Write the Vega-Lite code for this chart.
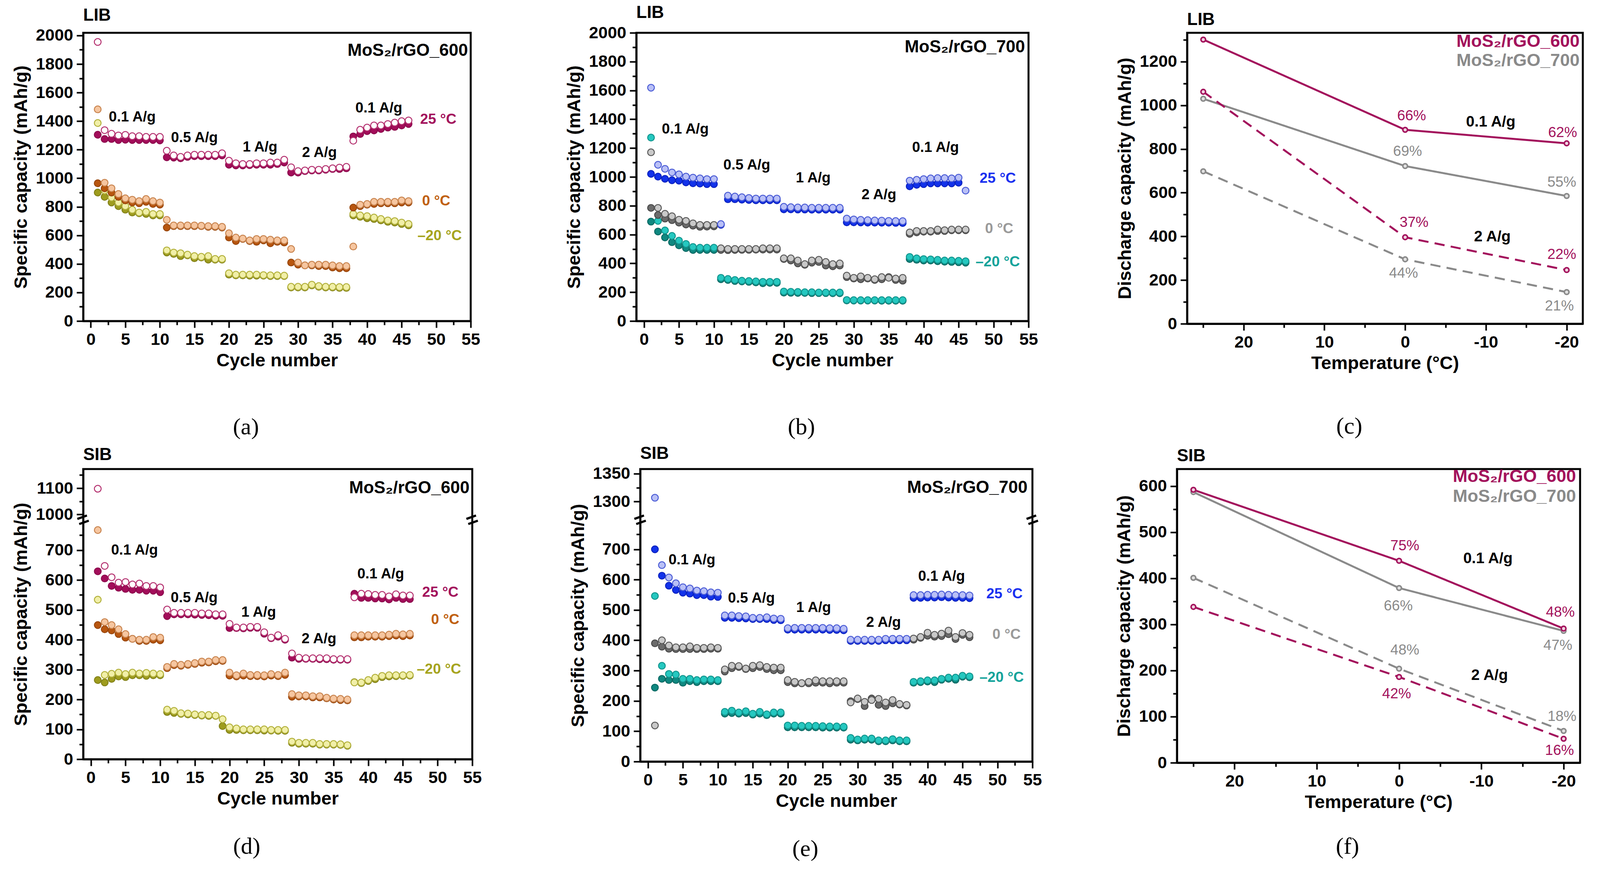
{
  "$schema": "https://vega.github.io/schema/vega-lite/v6.json",
  "background": "white",
  "padding": {"left": 27, "top": 8, "right": 10, "bottom": 10},
  "config": {
    "font": "Liberation Sans",
    "view": {"stroke": "black", "strokeWidth": 5},
    "axis": {
      "domainColor": "black", "domainWidth": 5, "tickColor": "black", "tickWidth": 4,
      "labelFontSize": 43, "labelFontWeight": "bold", "labelColor": "black", "labelPadding": 9,
      "labelFlush": false, "labelOverlap": false,
      "titleFontSize": 47, "titleFontWeight": "bold", "titleColor": "black", "grid": false
    },
    "axisX": {"titlePadding": 9},
    "axisY": {"titlePadding": 13},
    "title": {"fontSize": 44, "fontWeight": "bold", "color": "black", "anchor": "start", "frame": "group"}
  },
  "datasets": {
    "a": [
      {"s":"-20c","x":1,"y":900},{"s":"-20c","x":2,"y":870},{"s":"-20c","x":3,"y":830},{"s":"-20c","x":4,"y":805},{"s":"-20c","x":5,"y":780},{"s":"-20c","x":6,"y":760},{"s":"-20c","x":7,"y":755},{"s":"-20c","x":8,"y":750},{"s":"-20c","x":9,"y":740},{"s":"-20c","x":10,"y":740},
      {"s":"-20c","x":11,"y":480},{"s":"-20c","x":12,"y":470},{"s":"-20c","x":13,"y":455},{"s":"-20c","x":14,"y":460},{"s":"-20c","x":15,"y":440},{"s":"-20c","x":16,"y":445},{"s":"-20c","x":17,"y":430},{"s":"-20c","x":18,"y":430},{"s":"-20c","x":19,"y":430},
      {"s":"-20c","x":20,"y":325},{"s":"-20c","x":21,"y":320},{"s":"-20c","x":22,"y":320},{"s":"-20c","x":23,"y":318},{"s":"-20c","x":24,"y":318},{"s":"-20c","x":25,"y":318},{"s":"-20c","x":26,"y":315},{"s":"-20c","x":27,"y":315},{"s":"-20c","x":28,"y":315},
      {"s":"-20c","x":29,"y":235},{"s":"-20c","x":30,"y":235},{"s":"-20c","x":31,"y":235},{"s":"-20c","x":32,"y":250},{"s":"-20c","x":33,"y":240},{"s":"-20c","x":34,"y":235},{"s":"-20c","x":35,"y":235},{"s":"-20c","x":36,"y":232},{"s":"-20c","x":37,"y":232},
      {"s":"-20c","x":38,"y":740},{"s":"-20c","x":39,"y":730},{"s":"-20c","x":40,"y":720},{"s":"-20c","x":41,"y":715},{"s":"-20c","x":42,"y":705},{"s":"-20c","x":43,"y":695},{"s":"-20c","x":44,"y":690},{"s":"-20c","x":45,"y":680},{"s":"-20c","x":46,"y":670},
      {"s":"-20d","x":1,"y":1387},{"s":"-20d","x":2,"y":915},{"s":"-20d","x":3,"y":865},{"s":"-20d","x":4,"y":830},{"s":"-20d","x":5,"y":805},{"s":"-20d","x":6,"y":780},{"s":"-20d","x":7,"y":760},{"s":"-20d","x":8,"y":765},{"s":"-20d","x":9,"y":750},{"s":"-20d","x":10,"y":750},
      {"s":"-20d","x":11,"y":495},{"s":"-20d","x":12,"y":480},{"s":"-20d","x":13,"y":475},{"s":"-20d","x":14,"y":465},{"s":"-20d","x":15,"y":455},{"s":"-20d","x":16,"y":450},{"s":"-20d","x":17,"y":455},{"s":"-20d","x":18,"y":435},{"s":"-20d","x":19,"y":435},
      {"s":"-20d","x":20,"y":335},{"s":"-20d","x":21,"y":325},{"s":"-20d","x":22,"y":325},{"s":"-20d","x":23,"y":325},{"s":"-20d","x":24,"y":325},{"s":"-20d","x":25,"y":322},{"s":"-20d","x":26,"y":320},{"s":"-20d","x":27,"y":320},{"s":"-20d","x":28,"y":318},
      {"s":"-20d","x":29,"y":240},{"s":"-20d","x":30,"y":240},{"s":"-20d","x":31,"y":240},{"s":"-20d","x":32,"y":255},{"s":"-20d","x":33,"y":245},{"s":"-20d","x":34,"y":240},{"s":"-20d","x":35,"y":240},{"s":"-20d","x":36,"y":238},{"s":"-20d","x":37,"y":238},
      {"s":"-20d","x":38,"y":750},{"s":"-20d","x":39,"y":740},{"s":"-20d","x":40,"y":735},{"s":"-20d","x":41,"y":725},{"s":"-20d","x":42,"y":715},{"s":"-20d","x":43,"y":705},{"s":"-20d","x":44,"y":700},{"s":"-20d","x":45,"y":690},{"s":"-20d","x":46,"y":680},
      {"s":"0c","x":1,"y":965},{"s":"0c","x":2,"y":930},{"s":"0c","x":3,"y":900},{"s":"0c","x":4,"y":870},{"s":"0c","x":5,"y":845},{"s":"0c","x":6,"y":830},{"s":"0c","x":7,"y":825},{"s":"0c","x":8,"y":835},{"s":"0c","x":9,"y":820},{"s":"0c","x":10,"y":815},
      {"s":"0c","x":11,"y":655},{"s":"0c","x":12,"y":665},{"s":"0c","x":13,"y":665},{"s":"0c","x":14,"y":665},{"s":"0c","x":15,"y":665},{"s":"0c","x":16,"y":665},{"s":"0c","x":17,"y":660},{"s":"0c","x":18,"y":660},{"s":"0c","x":19,"y":655},
      {"s":"0c","x":20,"y":585},{"s":"0c","x":21,"y":560},{"s":"0c","x":22,"y":575},{"s":"0c","x":23,"y":560},{"s":"0c","x":24,"y":555},{"s":"0c","x":25,"y":565},{"s":"0c","x":26,"y":545},{"s":"0c","x":27,"y":555},{"s":"0c","x":28,"y":550},
      {"s":"0c","x":29,"y":410},{"s":"0c","x":30,"y":395},{"s":"0c","x":31,"y":390},{"s":"0c","x":32,"y":390},{"s":"0c","x":33,"y":385},{"s":"0c","x":34,"y":385},{"s":"0c","x":35,"y":375},{"s":"0c","x":36,"y":370},{"s":"0c","x":37,"y":370},
      {"s":"0c","x":38,"y":795},{"s":"0c","x":39,"y":805},{"s":"0c","x":40,"y":815},{"s":"0c","x":41,"y":820},{"s":"0c","x":42,"y":825},{"s":"0c","x":43,"y":825},{"s":"0c","x":44,"y":825},{"s":"0c","x":45,"y":830},{"s":"0c","x":46,"y":830},
      {"s":"0d","x":1,"y":1483},{"s":"0d","x":2,"y":969},{"s":"0d","x":3,"y":930},{"s":"0d","x":4,"y":890},{"s":"0d","x":5,"y":860},{"s":"0d","x":6,"y":850},{"s":"0d","x":7,"y":840},{"s":"0d","x":8,"y":855},{"s":"0d","x":9,"y":840},{"s":"0d","x":10,"y":830},
      {"s":"0d","x":11,"y":709},{"s":"0d","x":12,"y":670},{"s":"0d","x":13,"y":670},{"s":"0d","x":14,"y":670},{"s":"0d","x":15,"y":670},{"s":"0d","x":16,"y":668},{"s":"0d","x":17,"y":665},{"s":"0d","x":18,"y":665},{"s":"0d","x":19,"y":660},
      {"s":"0d","x":20,"y":615},{"s":"0d","x":21,"y":585},{"s":"0d","x":22,"y":578},{"s":"0d","x":23,"y":565},{"s":"0d","x":24,"y":575},{"s":"0d","x":25,"y":575},{"s":"0d","x":26,"y":570},{"s":"0d","x":27,"y":565},{"s":"0d","x":28,"y":565},
      {"s":"0d","x":29,"y":505},{"s":"0d","x":30,"y":410},{"s":"0d","x":31,"y":390},{"s":"0d","x":32,"y":395},{"s":"0d","x":33,"y":395},{"s":"0d","x":34,"y":395},{"s":"0d","x":35,"y":390},{"s":"0d","x":36,"y":385},{"s":"0d","x":37,"y":385},
      {"s":"0d","x":38,"y":522},{"s":"0d","x":39,"y":815},{"s":"0d","x":40,"y":820},{"s":"0d","x":41,"y":835},{"s":"0d","x":42,"y":835},{"s":"0d","x":43,"y":835},{"s":"0d","x":44,"y":835},{"s":"0d","x":45,"y":845},{"s":"0d","x":46,"y":840},
      {"s":"25c","x":1,"y":1305},{"s":"25c","x":2,"y":1275},{"s":"25c","x":3,"y":1275},{"s":"25c","x":4,"y":1268},{"s":"25c","x":5,"y":1270},{"s":"25c","x":6,"y":1268},{"s":"25c","x":7,"y":1268},{"s":"25c","x":8,"y":1268},{"s":"25c","x":9,"y":1268},{"s":"25c","x":10,"y":1265},
      {"s":"25c","x":11,"y":1147},{"s":"25c","x":12,"y":1145},{"s":"25c","x":13,"y":1140},{"s":"25c","x":14,"y":1150},{"s":"25c","x":15,"y":1155},{"s":"25c","x":16,"y":1155},{"s":"25c","x":17,"y":1155},{"s":"25c","x":18,"y":1155},{"s":"25c","x":19,"y":1160},
      {"s":"25c","x":20,"y":1095},{"s":"25c","x":21,"y":1090},{"s":"25c","x":22,"y":1090},{"s":"25c","x":23,"y":1092},{"s":"25c","x":24,"y":1095},{"s":"25c","x":25,"y":1095},{"s":"25c","x":26,"y":1095},{"s":"25c","x":27,"y":1100},{"s":"25c","x":28,"y":1110},
      {"s":"25c","x":29,"y":1040},{"s":"25c","x":30,"y":1040},{"s":"25c","x":31,"y":1050},{"s":"25c","x":32,"y":1055},{"s":"25c","x":33,"y":1055},{"s":"25c","x":34,"y":1060},{"s":"25c","x":35,"y":1065},{"s":"25c","x":36,"y":1065},{"s":"25c","x":37,"y":1070},
      {"s":"25c","x":38,"y":1293},{"s":"25c","x":39,"y":1310},{"s":"25c","x":40,"y":1330},{"s":"25c","x":41,"y":1335},{"s":"25c","x":42,"y":1345},{"s":"25c","x":43,"y":1355},{"s":"25c","x":44,"y":1360},{"s":"25c","x":45,"y":1370},{"s":"25c","x":46,"y":1380},
      {"s":"25d","x":1,"y":1955},{"s":"25d","x":2,"y":1337},{"s":"25d","x":3,"y":1312},{"s":"25d","x":4,"y":1300},{"s":"25d","x":5,"y":1304},{"s":"25d","x":6,"y":1295},{"s":"25d","x":7,"y":1295},{"s":"25d","x":8,"y":1290},{"s":"25d","x":9,"y":1290},{"s":"25d","x":10,"y":1290},
      {"s":"25d","x":11,"y":1193},{"s":"25d","x":12,"y":1160},{"s":"25d","x":13,"y":1150},{"s":"25d","x":14,"y":1160},{"s":"25d","x":15,"y":1165},{"s":"25d","x":16,"y":1165},{"s":"25d","x":17,"y":1165},{"s":"25d","x":18,"y":1165},{"s":"25d","x":19,"y":1175},
      {"s":"25d","x":20,"y":1123},{"s":"25d","x":21,"y":1105},{"s":"25d","x":22,"y":1100},{"s":"25d","x":23,"y":1100},{"s":"25d","x":24,"y":1105},{"s":"25d","x":25,"y":1105},{"s":"25d","x":26,"y":1110},{"s":"25d","x":27,"y":1110},{"s":"25d","x":28,"y":1130},
      {"s":"25d","x":29,"y":1077},{"s":"25d","x":30,"y":1050},{"s":"25d","x":31,"y":1055},{"s":"25d","x":32,"y":1060},{"s":"25d","x":33,"y":1060},{"s":"25d","x":34,"y":1065},{"s":"25d","x":35,"y":1070},{"s":"25d","x":36,"y":1075},{"s":"25d","x":37,"y":1080},
      {"s":"25d","x":38,"y":1263},{"s":"25d","x":39,"y":1340},{"s":"25d","x":40,"y":1355},{"s":"25d","x":41,"y":1370},{"s":"25d","x":42,"y":1370},{"s":"25d","x":43,"y":1380},{"s":"25d","x":44,"y":1390},{"s":"25d","x":45,"y":1400},{"s":"25d","x":46,"y":1405}
    ],
    "aT": [
      {"g":"rate","k":"rate","x":6.0,"y":1428,"t":"0.1 A/g"},
      {"g":"rate","k":"rate","x":15.0,"y":1284,"t":"0.5 A/g"},
      {"g":"rate","k":"rate","x":24.5,"y":1218,"t":"1 A/g"},
      {"g":"rate","k":"rate","x":33.1,"y":1180,"t":"2 A/g"},
      {"g":"rate","k":"rate","x":41.7,"y":1491,"t":"0.1 A/g"},
      {"g":"temp","k":"25","x":50.3,"y":1413,"t":"25 °C"},
      {"g":"temp","k":"0","x":50.0,"y":840,"t":"0 °C"},
      {"g":"temp","k":"-20","x":50.5,"y":597,"t":"–20 °C"},
      {"g":"name","k":"name","x":54.6,"y":1892,"t":"MoS₂/rGO_600"}
    ],
    "b": [
      {"s":"-20c","x":1,"y":690},{"s":"-20c","x":2,"y":621},{"s":"-20c","x":3,"y":580},{"s":"-20c","x":4,"y":547},{"s":"-20c","x":5,"y":525},{"s":"-20c","x":6,"y":506},{"s":"-20c","x":7,"y":493},{"s":"-20c","x":8,"y":493},{"s":"-20c","x":9,"y":493},{"s":"-20c","x":10,"y":493},
      {"s":"-20c","x":11,"y":290},{"s":"-20c","x":12,"y":285},{"s":"-20c","x":13,"y":278},{"s":"-20c","x":14,"y":275},{"s":"-20c","x":15,"y":272},{"s":"-20c","x":16,"y":268},{"s":"-20c","x":17,"y":262},{"s":"-20c","x":18,"y":265},{"s":"-20c","x":19,"y":265},
      {"s":"-20c","x":20,"y":197},{"s":"-20c","x":21,"y":196},{"s":"-20c","x":22,"y":195},{"s":"-20c","x":23,"y":195},{"s":"-20c","x":24,"y":194},{"s":"-20c","x":25,"y":194},{"s":"-20c","x":26,"y":194},{"s":"-20c","x":27,"y":193},{"s":"-20c","x":28,"y":193},
      {"s":"-20c","x":29,"y":143},{"s":"-20c","x":30,"y":142},{"s":"-20c","x":31,"y":142},{"s":"-20c","x":32,"y":142},{"s":"-20c","x":33,"y":142},{"s":"-20c","x":34,"y":141},{"s":"-20c","x":35,"y":141},{"s":"-20c","x":36,"y":141},{"s":"-20c","x":37,"y":141},
      {"s":"-20c","x":38,"y":430},{"s":"-20c","x":39,"y":425},{"s":"-20c","x":40,"y":420},{"s":"-20c","x":41,"y":420},{"s":"-20c","x":42,"y":415},{"s":"-20c","x":43,"y":412},{"s":"-20c","x":44,"y":410},{"s":"-20c","x":45,"y":408},{"s":"-20c","x":46,"y":405},
      {"s":"-20d","x":1,"y":1273},{"s":"-20d","x":2,"y":695},{"s":"-20d","x":3,"y":629},{"s":"-20d","x":4,"y":591},{"s":"-20d","x":5,"y":558},{"s":"-20d","x":6,"y":535},{"s":"-20d","x":7,"y":514},{"s":"-20d","x":8,"y":509},{"s":"-20d","x":9,"y":509},{"s":"-20d","x":10,"y":509},
      {"s":"-20d","x":11,"y":300},{"s":"-20d","x":12,"y":292},{"s":"-20d","x":13,"y":285},{"s":"-20d","x":14,"y":280},{"s":"-20d","x":15,"y":278},{"s":"-20d","x":16,"y":275},{"s":"-20d","x":17,"y":272},{"s":"-20d","x":18,"y":272},{"s":"-20d","x":19,"y":272},
      {"s":"-20d","x":20,"y":205},{"s":"-20d","x":21,"y":203},{"s":"-20d","x":22,"y":202},{"s":"-20d","x":23,"y":200},{"s":"-20d","x":24,"y":200},{"s":"-20d","x":25,"y":198},{"s":"-20d","x":26,"y":198},{"s":"-20d","x":27,"y":198},{"s":"-20d","x":28,"y":198},
      {"s":"-20d","x":29,"y":146},{"s":"-20d","x":30,"y":145},{"s":"-20d","x":31,"y":145},{"s":"-20d","x":32,"y":145},{"s":"-20d","x":33,"y":145},{"s":"-20d","x":34,"y":145},{"s":"-20d","x":35,"y":145},{"s":"-20d","x":36,"y":145},{"s":"-20d","x":37,"y":145},
      {"s":"-20d","x":38,"y":445},{"s":"-20d","x":39,"y":435},{"s":"-20d","x":40,"y":430},{"s":"-20d","x":41,"y":428},{"s":"-20d","x":42,"y":425},{"s":"-20d","x":43,"y":420},{"s":"-20d","x":44,"y":420},{"s":"-20d","x":45,"y":418},{"s":"-20d","x":46,"y":415},
      {"s":"0c","x":1,"y":785},{"s":"0c","x":2,"y":736},{"s":"0c","x":3,"y":711},{"s":"0c","x":4,"y":700},{"s":"0c","x":5,"y":683},{"s":"0c","x":6,"y":670},{"s":"0c","x":7,"y":662},{"s":"0c","x":8,"y":654},{"s":"0c","x":9,"y":655},{"s":"0c","x":10,"y":657},
      {"s":"0c","x":11,"y":493},{"s":"0c","x":12,"y":492},{"s":"0c","x":13,"y":493},{"s":"0c","x":14,"y":494},{"s":"0c","x":15,"y":494},{"s":"0c","x":16,"y":495},{"s":"0c","x":17,"y":496},{"s":"0c","x":18,"y":496},{"s":"0c","x":19,"y":496},
      {"s":"0c","x":20,"y":430},{"s":"0c","x":21,"y":420},{"s":"0c","x":22,"y":400},{"s":"0c","x":23,"y":390},{"s":"0c","x":24,"y":405},{"s":"0c","x":25,"y":410},{"s":"0c","x":26,"y":385},{"s":"0c","x":27,"y":380},{"s":"0c","x":28,"y":385},
      {"s":"0c","x":29,"y":305},{"s":"0c","x":30,"y":295},{"s":"0c","x":31,"y":290},{"s":"0c","x":32,"y":295},{"s":"0c","x":33,"y":285},{"s":"0c","x":34,"y":290},{"s":"0c","x":35,"y":305},{"s":"0c","x":36,"y":285},{"s":"0c","x":37,"y":280},
      {"s":"0c","x":38,"y":605},{"s":"0c","x":39,"y":615},{"s":"0c","x":40,"y":620},{"s":"0c","x":41,"y":620},{"s":"0c","x":42,"y":625},{"s":"0c","x":43,"y":625},{"s":"0c","x":44,"y":630},{"s":"0c","x":45,"y":630},{"s":"0c","x":46,"y":630},
      {"s":"0d","x":1,"y":1171},{"s":"0d","x":2,"y":785},{"s":"0d","x":3,"y":744},{"s":"0d","x":4,"y":727},{"s":"0d","x":5,"y":703},{"s":"0d","x":6,"y":695},{"s":"0d","x":7,"y":678},{"s":"0d","x":8,"y":667},{"s":"0d","x":9,"y":667},{"s":"0d","x":10,"y":667},
      {"s":"0d","x":11,"y":505},{"s":"0d","x":12,"y":500},{"s":"0d","x":13,"y":500},{"s":"0d","x":14,"y":500},{"s":"0d","x":15,"y":500},{"s":"0d","x":16,"y":500},{"s":"0d","x":17,"y":505},{"s":"0d","x":18,"y":505},{"s":"0d","x":19,"y":505},
      {"s":"0d","x":20,"y":435},{"s":"0d","x":21,"y":435},{"s":"0d","x":22,"y":420},{"s":"0d","x":23,"y":395},{"s":"0d","x":24,"y":420},{"s":"0d","x":25,"y":425},{"s":"0d","x":26,"y":410},{"s":"0d","x":27,"y":395},{"s":"0d","x":28,"y":400},
      {"s":"0d","x":29,"y":315},{"s":"0d","x":30,"y":300},{"s":"0d","x":31,"y":310},{"s":"0d","x":32,"y":300},{"s":"0d","x":33,"y":290},{"s":"0d","x":34,"y":305},{"s":"0d","x":35,"y":300},{"s":"0d","x":36,"y":295},{"s":"0d","x":37,"y":300},
      {"s":"0d","x":38,"y":615},{"s":"0d","x":39,"y":625},{"s":"0d","x":40,"y":625},{"s":"0d","x":41,"y":625},{"s":"0d","x":42,"y":635},{"s":"0d","x":43,"y":630},{"s":"0d","x":44,"y":635},{"s":"0d","x":45,"y":635},{"s":"0d","x":46,"y":635},
      {"s":"25c","x":1,"y":1021},{"s":"25c","x":2,"y":1002},{"s":"25c","x":3,"y":987},{"s":"25c","x":4,"y":977},{"s":"25c","x":5,"y":974},{"s":"25c","x":6,"y":962},{"s":"25c","x":7,"y":956},{"s":"25c","x":8,"y":954},{"s":"25c","x":9,"y":950},{"s":"25c","x":10,"y":950},
      {"s":"25c","x":11,"y":668},{"s":"25c","x":12,"y":845},{"s":"25c","x":13,"y":845},{"s":"25c","x":14,"y":842},{"s":"25c","x":15,"y":840},{"s":"25c","x":16,"y":838},{"s":"25c","x":17,"y":838},{"s":"25c","x":18,"y":838},{"s":"25c","x":19,"y":838},
      {"s":"25c","x":20,"y":775},{"s":"25c","x":21,"y":775},{"s":"25c","x":22,"y":774},{"s":"25c","x":23,"y":774},{"s":"25c","x":24,"y":773},{"s":"25c","x":25,"y":773},{"s":"25c","x":26,"y":773},{"s":"25c","x":27,"y":773},{"s":"25c","x":28,"y":773},
      {"s":"25c","x":29,"y":685},{"s":"25c","x":30,"y":685},{"s":"25c","x":31,"y":684},{"s":"25c","x":32,"y":683},{"s":"25c","x":33,"y":683},{"s":"25c","x":34,"y":682},{"s":"25c","x":35,"y":682},{"s":"25c","x":36,"y":681},{"s":"25c","x":37,"y":680},
      {"s":"25c","x":38,"y":935},{"s":"25c","x":39,"y":945},{"s":"25c","x":40,"y":950},{"s":"25c","x":41,"y":955},{"s":"25c","x":42,"y":955},{"s":"25c","x":43,"y":955},{"s":"25c","x":44,"y":955},{"s":"25c","x":45,"y":960},
      {"s":"25d","x":1,"y":1619},{"s":"25d","x":2,"y":1084},{"s":"25d","x":3,"y":1056},{"s":"25d","x":4,"y":1031},{"s":"25d","x":5,"y":1018},{"s":"25d","x":6,"y":1002},{"s":"25d","x":7,"y":995},{"s":"25d","x":8,"y":990},{"s":"25d","x":9,"y":985},{"s":"25d","x":10,"y":985},
      {"s":"25d","x":11,"y":673},{"s":"25d","x":12,"y":870},{"s":"25d","x":13,"y":864},{"s":"25d","x":14,"y":859},{"s":"25d","x":15,"y":854},{"s":"25d","x":16,"y":850},{"s":"25d","x":17,"y":850},{"s":"25d","x":18,"y":850},{"s":"25d","x":19,"y":850},
      {"s":"25d","x":20,"y":793},{"s":"25d","x":21,"y":790},{"s":"25d","x":22,"y":788},{"s":"25d","x":23,"y":788},{"s":"25d","x":24,"y":786},{"s":"25d","x":25,"y":786},{"s":"25d","x":26,"y":786},{"s":"25d","x":27,"y":786},{"s":"25d","x":28,"y":786},
      {"s":"25d","x":29,"y":711},{"s":"25d","x":30,"y":705},{"s":"25d","x":31,"y":702},{"s":"25d","x":32,"y":700},{"s":"25d","x":33,"y":698},{"s":"25d","x":34,"y":697},{"s":"25d","x":35,"y":695},{"s":"25d","x":36,"y":694},{"s":"25d","x":37,"y":693},
      {"s":"25d","x":38,"y":974},{"s":"25d","x":39,"y":980},{"s":"25d","x":40,"y":985},{"s":"25d","x":41,"y":990},{"s":"25d","x":42,"y":992},{"s":"25d","x":43,"y":992},{"s":"25d","x":44,"y":990},{"s":"25d","x":45,"y":995},{"s":"25d","x":46,"y":905}
    ],
    "bT": [
      {"g":"rate","k":"rate","x":5.9,"y":1330,"t":"0.1 A/g"},
      {"g":"rate","k":"rate","x":14.7,"y":1080,"t":"0.5 A/g"},
      {"g":"rate","k":"rate","x":24.2,"y":993,"t":"1 A/g"},
      {"g":"rate","k":"rate","x":33.6,"y":875,"t":"2 A/g"},
      {"g":"rate","k":"rate","x":41.7,"y":1203,"t":"0.1 A/g"},
      {"g":"temp","k":"25","x":50.6,"y":990,"t":"25 °C"},
      {"g":"temp","k":"0","x":50.8,"y":640,"t":"0 °C"},
      {"g":"temp","k":"-20","x":50.6,"y":410,"t":"–20 °C"},
      {"g":"name","k":"name","x":54.5,"y":1901,"t":"MoS₂/rGO_700"}
    ],
    "c": [
      {"s":"700","r":"0.1","x":25,"y":1030},{"s":"700","r":"0.1","x":0,"y":722},{"s":"700","r":"0.1","x":-20,"y":585},
      {"s":"700","r":"2","x":25,"y":698},{"s":"700","r":"2","x":0,"y":295},{"s":"700","r":"2","x":-20,"y":145},
      {"s":"600","r":"0.1","x":25,"y":1301},{"s":"600","r":"0.1","x":0,"y":888},{"s":"600","r":"0.1","x":-20,"y":826},
      {"s":"600","r":"2","x":25,"y":1062},{"s":"600","r":"2","x":0,"y":396},{"s":"600","r":"2","x":-20,"y":246}
    ],
    "cT": [
      {"g":"leg","k":"600","x":-21.6,"y":1292,"t":"MoS₂/rGO_600"},
      {"g":"leg","k":"700","x":-21.6,"y":1205,"t":"MoS₂/rGO_700"},
      {"g":"pct","k":"600","x":-0.8,"y":951,"t":"66%"},
      {"g":"pct","k":"600","x":-19.5,"y":875,"t":"62%"},
      {"g":"pct","k":"700","x":-0.3,"y":788,"t":"69%"},
      {"g":"pct","k":"700","x":-19.4,"y":647,"t":"55%"},
      {"g":"pct","k":"600","x":-1.1,"y":463,"t":"37%"},
      {"g":"pct","k":"600","x":-19.4,"y":317,"t":"22%"},
      {"g":"pct","k":"700","x":0.2,"y":230,"t":"44%"},
      {"g":"pct","k":"700","x":-19.1,"y":80,"t":"21%"},
      {"g":"rate","k":"rate","x":-10.6,"y":924,"t":"0.1 A/g"},
      {"g":"rate","k":"rate","x":-10.8,"y":398,"t":"2 A/g"}
    ],
    "d": [
      {"s":"-20c","x":1,"y":265},{"s":"-20c","x":2,"y":257},{"s":"-20c","x":3,"y":269},{"s":"-20c","x":4,"y":277},{"s":"-20c","x":5,"y":275},{"s":"-20c","x":6,"y":281},{"s":"-20c","x":7,"y":281},{"s":"-20c","x":8,"y":279},{"s":"-20c","x":9,"y":281},{"s":"-20c","x":10,"y":281},
      {"s":"-20c","x":11,"y":158},{"s":"-20c","x":12,"y":155},{"s":"-20c","x":13,"y":152},{"s":"-20c","x":14,"y":150},{"s":"-20c","x":15,"y":148},{"s":"-20c","x":16,"y":146},{"s":"-20c","x":17,"y":145},{"s":"-20c","x":18,"y":145},{"s":"-20c","x":19,"y":111},
      {"s":"-20c","x":20,"y":98},{"s":"-20c","x":21,"y":98},{"s":"-20c","x":22,"y":97},{"s":"-20c","x":23,"y":97},{"s":"-20c","x":24,"y":97},{"s":"-20c","x":25,"y":96},{"s":"-20c","x":26,"y":96},{"s":"-20c","x":27,"y":95},{"s":"-20c","x":28,"y":95},
      {"s":"-20c","x":29,"y":55},{"s":"-20c","x":30,"y":52},{"s":"-20c","x":31,"y":52},{"s":"-20c","x":32,"y":52},{"s":"-20c","x":33,"y":49},{"s":"-20c","x":34,"y":49},{"s":"-20c","x":35,"y":49},{"s":"-20c","x":36,"y":48},{"s":"-20c","x":37,"y":45},
      {"s":"-20c","x":38,"y":258},{"s":"-20c","x":39,"y":255},{"s":"-20c","x":40,"y":262},{"s":"-20c","x":41,"y":268},{"s":"-20c","x":42,"y":275},{"s":"-20c","x":43,"y":277},{"s":"-20c","x":44,"y":278},{"s":"-20c","x":45,"y":279},{"s":"-20c","x":46,"y":280},
      {"s":"-20d","x":1,"y":534},{"s":"-20d","x":2,"y":282},{"s":"-20d","x":3,"y":286},{"s":"-20d","x":4,"y":290},{"s":"-20d","x":5,"y":285},{"s":"-20d","x":6,"y":290},{"s":"-20d","x":7,"y":287},{"s":"-20d","x":8,"y":289},{"s":"-20d","x":9,"y":287},{"s":"-20d","x":10,"y":285},
      {"s":"-20d","x":11,"y":166},{"s":"-20d","x":12,"y":162},{"s":"-20d","x":13,"y":154},{"s":"-20d","x":14,"y":153},{"s":"-20d","x":15,"y":150},{"s":"-20d","x":16,"y":148},{"s":"-20d","x":17,"y":148},{"s":"-20d","x":18,"y":146},{"s":"-20d","x":19,"y":134},
      {"s":"-20d","x":20,"y":107},{"s":"-20d","x":21,"y":103},{"s":"-20d","x":22,"y":100},{"s":"-20d","x":23,"y":100},{"s":"-20d","x":24,"y":100},{"s":"-20d","x":25,"y":100},{"s":"-20d","x":26,"y":98},{"s":"-20d","x":27,"y":98},{"s":"-20d","x":28,"y":98},
      {"s":"-20d","x":29,"y":59},{"s":"-20d","x":30,"y":55},{"s":"-20d","x":31,"y":55},{"s":"-20d","x":32,"y":55},{"s":"-20d","x":33,"y":51},{"s":"-20d","x":34,"y":51},{"s":"-20d","x":35,"y":51},{"s":"-20d","x":36,"y":50},{"s":"-20d","x":37,"y":47},
      {"s":"-20d","x":38,"y":257},{"s":"-20d","x":39,"y":257},{"s":"-20d","x":40,"y":265},{"s":"-20d","x":41,"y":273},{"s":"-20d","x":42,"y":279},{"s":"-20d","x":43,"y":281},{"s":"-20d","x":44,"y":281},{"s":"-20d","x":45,"y":281},{"s":"-20d","x":46,"y":282},
      {"s":"0c","x":1,"y":449},{"s":"0c","x":2,"y":435},{"s":"0c","x":3,"y":431},{"s":"0c","x":4,"y":419},{"s":"0c","x":5,"y":407},{"s":"0c","x":6,"y":403},{"s":"0c","x":7,"y":396},{"s":"0c","x":8,"y":396},{"s":"0c","x":9,"y":400},{"s":"0c","x":10,"y":398},
      {"s":"0c","x":11,"y":305},{"s":"0c","x":12,"y":315},{"s":"0c","x":13,"y":313},{"s":"0c","x":14,"y":316},{"s":"0c","x":15,"y":319},{"s":"0c","x":16,"y":323},{"s":"0c","x":17,"y":324},{"s":"0c","x":18,"y":328},{"s":"0c","x":19,"y":329},
      {"s":"0c","x":20,"y":280},{"s":"0c","x":21,"y":277},{"s":"0c","x":22,"y":280},{"s":"0c","x":23,"y":278},{"s":"0c","x":24,"y":278},{"s":"0c","x":25,"y":277},{"s":"0c","x":26,"y":280},{"s":"0c","x":27,"y":278},{"s":"0c","x":28,"y":282},
      {"s":"0c","x":29,"y":209},{"s":"0c","x":30,"y":210},{"s":"0c","x":31,"y":210},{"s":"0c","x":32,"y":207},{"s":"0c","x":33,"y":207},{"s":"0c","x":34,"y":204},{"s":"0c","x":35,"y":200},{"s":"0c","x":36,"y":198},{"s":"0c","x":37,"y":197},
      {"s":"0c","x":38,"y":408},{"s":"0c","x":39,"y":408},{"s":"0c","x":40,"y":410},{"s":"0c","x":41,"y":410},{"s":"0c","x":42,"y":410},{"s":"0c","x":43,"y":412},{"s":"0c","x":44,"y":414},{"s":"0c","x":45,"y":412},{"s":"0c","x":46,"y":414},
      {"s":"0d","x":1,"y":767},{"s":"0d","x":2,"y":459},{"s":"0d","x":3,"y":449},{"s":"0d","x":4,"y":435},{"s":"0d","x":5,"y":419},{"s":"0d","x":6,"y":403},{"s":"0d","x":7,"y":400},{"s":"0d","x":8,"y":400},{"s":"0d","x":9,"y":409},{"s":"0d","x":10,"y":407},
      {"s":"0d","x":11,"y":309},{"s":"0d","x":12,"y":319},{"s":"0d","x":13,"y":316},{"s":"0d","x":14,"y":319},{"s":"0d","x":15,"y":322},{"s":"0d","x":16,"y":327},{"s":"0d","x":17,"y":327},{"s":"0d","x":18,"y":332},{"s":"0d","x":19,"y":332},
      {"s":"0d","x":20,"y":290},{"s":"0d","x":21,"y":281},{"s":"0d","x":22,"y":287},{"s":"0d","x":23,"y":282},{"s":"0d","x":24,"y":282},{"s":"0d","x":25,"y":281},{"s":"0d","x":26,"y":285},{"s":"0d","x":27,"y":282},{"s":"0d","x":28,"y":290},
      {"s":"0d","x":29,"y":218},{"s":"0d","x":30,"y":214},{"s":"0d","x":31,"y":214},{"s":"0d","x":32,"y":211},{"s":"0d","x":33,"y":211},{"s":"0d","x":34,"y":206},{"s":"0d","x":35,"y":203},{"s":"0d","x":36,"y":202},{"s":"0d","x":37,"y":200},
      {"s":"0d","x":38,"y":415},{"s":"0d","x":39,"y":415},{"s":"0d","x":40,"y":415},{"s":"0d","x":41,"y":415},{"s":"0d","x":42,"y":415},{"s":"0d","x":43,"y":417},{"s":"0d","x":44,"y":420},{"s":"0d","x":45,"y":418},{"s":"0d","x":46,"y":420},
      {"s":"25c","x":1,"y":629},{"s":"25c","x":2,"y":605},{"s":"25c","x":3,"y":580},{"s":"25c","x":4,"y":574},{"s":"25c","x":5,"y":570},{"s":"25c","x":6,"y":567},{"s":"25c","x":7,"y":567},{"s":"25c","x":8,"y":564},{"s":"25c","x":9,"y":564},{"s":"25c","x":10,"y":559},
      {"s":"25c","x":11,"y":479},{"s":"25c","x":12,"y":485},{"s":"25c","x":13,"y":485},{"s":"25c","x":14,"y":485},{"s":"25c","x":15,"y":484},{"s":"25c","x":16,"y":483},{"s":"25c","x":17,"y":482},{"s":"25c","x":18,"y":480},{"s":"25c","x":19,"y":480},
      {"s":"25c","x":20,"y":439},{"s":"25c","x":21,"y":439},{"s":"25c","x":22,"y":438},{"s":"25c","x":23,"y":440},{"s":"25c","x":24,"y":440},{"s":"25c","x":25,"y":420},{"s":"25c","x":26,"y":405},{"s":"25c","x":27,"y":410},{"s":"25c","x":28,"y":400},
      {"s":"25c","x":29,"y":340},{"s":"25c","x":30,"y":336},{"s":"25c","x":31,"y":336},{"s":"25c","x":32,"y":336},{"s":"25c","x":33,"y":335},{"s":"25c","x":34,"y":335},{"s":"25c","x":35,"y":333},{"s":"25c","x":36,"y":333},{"s":"25c","x":37,"y":333},
      {"s":"25c","x":38,"y":554},{"s":"25c","x":39,"y":540},{"s":"25c","x":40,"y":540},{"s":"25c","x":41,"y":538},{"s":"25c","x":42,"y":538},{"s":"25c","x":43,"y":535},{"s":"25c","x":44,"y":540},{"s":"25c","x":45,"y":536},{"s":"25c","x":46,"y":536},
      {"s":"25d","x":1,"y":1098},{"s":"25d","x":2,"y":647},{"s":"25d","x":3,"y":609},{"s":"25d","x":4,"y":591},{"s":"25d","x":5,"y":593},{"s":"25d","x":6,"y":585},{"s":"25d","x":7,"y":588},{"s":"25d","x":8,"y":580},{"s":"25d","x":9,"y":580},{"s":"25d","x":10,"y":575},
      {"s":"25d","x":11,"y":501},{"s":"25d","x":12,"y":490},{"s":"25d","x":13,"y":490},{"s":"25d","x":14,"y":490},{"s":"25d","x":15,"y":490},{"s":"25d","x":16,"y":488},{"s":"25d","x":17,"y":488},{"s":"25d","x":18,"y":485},{"s":"25d","x":19,"y":485},
      {"s":"25d","x":20,"y":453},{"s":"25d","x":21,"y":441},{"s":"25d","x":22,"y":441},{"s":"25d","x":23,"y":443},{"s":"25d","x":24,"y":443},{"s":"25d","x":25,"y":425},{"s":"25d","x":26,"y":407},{"s":"25d","x":27,"y":415},{"s":"25d","x":28,"y":403},
      {"s":"25d","x":29,"y":354},{"s":"25d","x":30,"y":340},{"s":"25d","x":31,"y":338},{"s":"25d","x":32,"y":338},{"s":"25d","x":33,"y":338},{"s":"25d","x":34,"y":338},{"s":"25d","x":35,"y":335},{"s":"25d","x":36,"y":335},{"s":"25d","x":37,"y":335},
      {"s":"25d","x":38,"y":542},{"s":"25d","x":39,"y":554},{"s":"25d","x":40,"y":553},{"s":"25d","x":41,"y":550},{"s":"25d","x":42,"y":550},{"s":"25d","x":43,"y":545},{"s":"25d","x":44,"y":552},{"s":"25d","x":45,"y":548},{"s":"25d","x":46,"y":548}
    ],
    "dT": [
      {"g":"rate","k":"rate","x":6.3,"y":699,"t":"0.1 A/g"},
      {"g":"rate","k":"rate","x":14.9,"y":540,"t":"0.5 A/g"},
      {"g":"rate","k":"rate","x":24.2,"y":492,"t":"1 A/g"},
      {"g":"rate","k":"rate","x":32.9,"y":403,"t":"2 A/g"},
      {"g":"rate","k":"rate","x":41.8,"y":619,"t":"0.1 A/g"},
      {"g":"temp","k":"25","x":50.4,"y":558,"t":"25 °C"},
      {"g":"temp","k":"0","x":51.1,"y":467,"t":"0 °C"},
      {"g":"temp","k":"-20","x":50.2,"y":301,"t":"–20 °C"},
      {"g":"name","k":"name","x":54.6,"y":1100,"t":"MoS₂/rGO_600"}
    ],
    "e": [
      {"s":"-20c","x":1,"y":244},{"s":"-20c","x":2,"y":273},{"s":"-20c","x":3,"y":269},{"s":"-20c","x":4,"y":269},{"s":"-20c","x":5,"y":260},{"s":"-20c","x":6,"y":265},{"s":"-20c","x":7,"y":262},{"s":"-20c","x":8,"y":265},{"s":"-20c","x":9,"y":265},{"s":"-20c","x":10,"y":265},
      {"s":"-20c","x":11,"y":158},{"s":"-20c","x":12,"y":160},{"s":"-20c","x":13,"y":158},{"s":"-20c","x":14,"y":160},{"s":"-20c","x":15,"y":155},{"s":"-20c","x":16,"y":158},{"s":"-20c","x":17,"y":153},{"s":"-20c","x":18,"y":158},{"s":"-20c","x":19,"y":158},
      {"s":"-20c","x":20,"y":113},{"s":"-20c","x":21,"y":113},{"s":"-20c","x":22,"y":113},{"s":"-20c","x":23,"y":113},{"s":"-20c","x":24,"y":113},{"s":"-20c","x":25,"y":112},{"s":"-20c","x":26,"y":112},{"s":"-20c","x":27,"y":112},{"s":"-20c","x":28,"y":112},
      {"s":"-20c","x":29,"y":72},{"s":"-20c","x":30,"y":70},{"s":"-20c","x":31,"y":72},{"s":"-20c","x":32,"y":72},{"s":"-20c","x":33,"y":67},{"s":"-20c","x":34,"y":67},{"s":"-20c","x":35,"y":70},{"s":"-20c","x":36,"y":67},{"s":"-20c","x":37,"y":67},
      {"s":"-20c","x":38,"y":260},{"s":"-20c","x":39,"y":262},{"s":"-20c","x":40,"y":264},{"s":"-20c","x":41,"y":262},{"s":"-20c","x":42,"y":270},{"s":"-20c","x":43,"y":273},{"s":"-20c","x":44,"y":270},{"s":"-20c","x":45,"y":280},{"s":"-20c","x":46,"y":278},
      {"s":"-20d","x":1,"y":546},{"s":"-20d","x":2,"y":316},{"s":"-20d","x":3,"y":289},{"s":"-20d","x":4,"y":287},{"s":"-20d","x":5,"y":273},{"s":"-20d","x":6,"y":273},{"s":"-20d","x":7,"y":269},{"s":"-20d","x":8,"y":271},{"s":"-20d","x":9,"y":271},{"s":"-20d","x":10,"y":269},
      {"s":"-20d","x":11,"y":164},{"s":"-20d","x":12,"y":168},{"s":"-20d","x":13,"y":162},{"s":"-20d","x":14,"y":166},{"s":"-20d","x":15,"y":158},{"s":"-20d","x":16,"y":164},{"s":"-20d","x":17,"y":156},{"s":"-20d","x":18,"y":162},{"s":"-20d","x":19,"y":162},
      {"s":"-20d","x":20,"y":119},{"s":"-20d","x":21,"y":119},{"s":"-20d","x":22,"y":118},{"s":"-20d","x":23,"y":118},{"s":"-20d","x":24,"y":118},{"s":"-20d","x":25,"y":117},{"s":"-20d","x":26,"y":116},{"s":"-20d","x":27,"y":116},{"s":"-20d","x":28,"y":115},
      {"s":"-20d","x":29,"y":78},{"s":"-20d","x":30,"y":73},{"s":"-20d","x":31,"y":76},{"s":"-20d","x":32,"y":76},{"s":"-20d","x":33,"y":70},{"s":"-20d","x":34,"y":70},{"s":"-20d","x":35,"y":74},{"s":"-20d","x":36,"y":70},{"s":"-20d","x":37,"y":70},
      {"s":"-20d","x":38,"y":263},{"s":"-20d","x":39,"y":265},{"s":"-20d","x":40,"y":268},{"s":"-20d","x":41,"y":268},{"s":"-20d","x":42,"y":273},{"s":"-20d","x":43,"y":277},{"s":"-20d","x":44,"y":277},{"s":"-20d","x":45,"y":283},{"s":"-20d","x":46,"y":281},
      {"s":"0c","x":1,"y":390},{"s":"0c","x":2,"y":379},{"s":"0c","x":3,"y":372},{"s":"0c","x":4,"y":371},{"s":"0c","x":5,"y":371},{"s":"0c","x":6,"y":371},{"s":"0c","x":7,"y":371},{"s":"0c","x":8,"y":371},{"s":"0c","x":9,"y":372},{"s":"0c","x":10,"y":372},
      {"s":"0c","x":11,"y":297},{"s":"0c","x":12,"y":308},{"s":"0c","x":13,"y":312},{"s":"0c","x":14,"y":305},{"s":"0c","x":15,"y":308},{"s":"0c","x":16,"y":312},{"s":"0c","x":17,"y":305},{"s":"0c","x":18,"y":301},{"s":"0c","x":19,"y":301},
      {"s":"0c","x":20,"y":262},{"s":"0c","x":21,"y":258},{"s":"0c","x":22,"y":258},{"s":"0c","x":23,"y":258},{"s":"0c","x":24,"y":260},{"s":"0c","x":25,"y":260},{"s":"0c","x":26,"y":258},{"s":"0c","x":27,"y":260},{"s":"0c","x":28,"y":260},
      {"s":"0c","x":29,"y":199},{"s":"0c","x":30,"y":206},{"s":"0c","x":31,"y":183},{"s":"0c","x":32,"y":208},{"s":"0c","x":33,"y":187},{"s":"0c","x":34,"y":183},{"s":"0c","x":35,"y":192},{"s":"0c","x":36,"y":188},{"s":"0c","x":37,"y":185},
      {"s":"0c","x":38,"y":402},{"s":"0c","x":39,"y":408},{"s":"0c","x":40,"y":415},{"s":"0c","x":41,"y":412},{"s":"0c","x":42,"y":414},{"s":"0c","x":43,"y":420},{"s":"0c","x":44,"y":404},{"s":"0c","x":45,"y":418},{"s":"0c","x":46,"y":410},
      {"s":"0d","x":1,"y":119},{"s":"0d","x":2,"y":400},{"s":"0d","x":3,"y":383},{"s":"0d","x":4,"y":377},{"s":"0d","x":5,"y":377},{"s":"0d","x":6,"y":380},{"s":"0d","x":7,"y":375},{"s":"0d","x":8,"y":375},{"s":"0d","x":9,"y":377},{"s":"0d","x":10,"y":375},
      {"s":"0d","x":11,"y":304},{"s":"0d","x":12,"y":316},{"s":"0d","x":13,"y":315},{"s":"0d","x":14,"y":307},{"s":"0d","x":15,"y":316},{"s":"0d","x":16,"y":318},{"s":"0d","x":17,"y":312},{"s":"0d","x":18,"y":310},{"s":"0d","x":19,"y":310},
      {"s":"0d","x":20,"y":269},{"s":"0d","x":21,"y":263},{"s":"0d","x":22,"y":259},{"s":"0d","x":23,"y":263},{"s":"0d","x":24,"y":268},{"s":"0d","x":25,"y":265},{"s":"0d","x":26,"y":265},{"s":"0d","x":27,"y":265},{"s":"0d","x":28,"y":265},
      {"s":"0d","x":29,"y":195},{"s":"0d","x":30,"y":208},{"s":"0d","x":31,"y":197},{"s":"0d","x":32,"y":203},{"s":"0d","x":33,"y":207},{"s":"0d","x":34,"y":195},{"s":"0d","x":35,"y":203},{"s":"0d","x":36,"y":190},{"s":"0d","x":37,"y":187},
      {"s":"0d","x":38,"y":406},{"s":"0d","x":39,"y":411},{"s":"0d","x":40,"y":425},{"s":"0d","x":41,"y":418},{"s":"0d","x":42,"y":422},{"s":"0d","x":43,"y":432},{"s":"0d","x":44,"y":411},{"s":"0d","x":45,"y":424},{"s":"0d","x":46,"y":418},
      {"s":"25c","x":1,"y":700},{"s":"25c","x":2,"y":613},{"s":"25c","x":3,"y":580},{"s":"25c","x":4,"y":566},{"s":"25c","x":5,"y":557},{"s":"25c","x":6,"y":554},{"s":"25c","x":7,"y":549},{"s":"25c","x":8,"y":549},{"s":"25c","x":9,"y":544},{"s":"25c","x":10,"y":543},
      {"s":"25c","x":11,"y":474},{"s":"25c","x":12,"y":474},{"s":"25c","x":13,"y":473},{"s":"25c","x":14,"y":472},{"s":"25c","x":15,"y":470},{"s":"25c","x":16,"y":470},{"s":"25c","x":17,"y":470},{"s":"25c","x":18,"y":467},{"s":"25c","x":19,"y":466},
      {"s":"25c","x":20,"y":435},{"s":"25c","x":21,"y":435},{"s":"25c","x":22,"y":435},{"s":"25c","x":23,"y":435},{"s":"25c","x":24,"y":435},{"s":"25c","x":25,"y":435},{"s":"25c","x":26,"y":434},{"s":"25c","x":27,"y":434},{"s":"25c","x":28,"y":433},
      {"s":"25c","x":29,"y":398},{"s":"25c","x":30,"y":398},{"s":"25c","x":31,"y":398},{"s":"25c","x":32,"y":398},{"s":"25c","x":33,"y":398},{"s":"25c","x":34,"y":400},{"s":"25c","x":35,"y":400},{"s":"25c","x":36,"y":400},{"s":"25c","x":37,"y":400},
      {"s":"25c","x":38,"y":540},{"s":"25c","x":39,"y":540},{"s":"25c","x":40,"y":541},{"s":"25c","x":41,"y":541},{"s":"25c","x":42,"y":542},{"s":"25c","x":43,"y":541},{"s":"25c","x":44,"y":540},{"s":"25c","x":45,"y":540},{"s":"25c","x":46,"y":539},
      {"s":"25d","x":1,"y":1307},{"s":"25d","x":2,"y":648},{"s":"25d","x":3,"y":607},{"s":"25d","x":4,"y":588},{"s":"25d","x":5,"y":575},{"s":"25d","x":6,"y":571},{"s":"25d","x":7,"y":564},{"s":"25d","x":8,"y":562},{"s":"25d","x":9,"y":558},{"s":"25d","x":10,"y":557},
      {"s":"25d","x":11,"y":482},{"s":"25d","x":12,"y":482},{"s":"25d","x":13,"y":480},{"s":"25d","x":14,"y":479},{"s":"25d","x":15,"y":474},{"s":"25d","x":16,"y":474},{"s":"25d","x":17,"y":476},{"s":"25d","x":18,"y":472},{"s":"25d","x":19,"y":471},
      {"s":"25d","x":20,"y":440},{"s":"25d","x":21,"y":441},{"s":"25d","x":22,"y":441},{"s":"25d","x":23,"y":441},{"s":"25d","x":24,"y":441},{"s":"25d","x":25,"y":441},{"s":"25d","x":26,"y":440},{"s":"25d","x":27,"y":440},{"s":"25d","x":28,"y":438},
      {"s":"25d","x":29,"y":402},{"s":"25d","x":30,"y":402},{"s":"25d","x":31,"y":402},{"s":"25d","x":32,"y":402},{"s":"25d","x":33,"y":402},{"s":"25d","x":34,"y":405},{"s":"25d","x":35,"y":405},{"s":"25d","x":36,"y":405},{"s":"25d","x":37,"y":405},
      {"s":"25d","x":38,"y":549},{"s":"25d","x":39,"y":549},{"s":"25d","x":40,"y":550},{"s":"25d","x":41,"y":550},{"s":"25d","x":42,"y":551},{"s":"25d","x":43,"y":550},{"s":"25d","x":44,"y":549},{"s":"25d","x":45,"y":549},{"s":"25d","x":46,"y":548}
    ],
    "eT": [
      {"g":"rate","k":"rate","x":6.3,"y":664,"t":"0.1 A/g"},
      {"g":"rate","k":"rate","x":14.8,"y":539,"t":"0.5 A/g"},
      {"g":"rate","k":"rate","x":23.7,"y":507,"t":"1 A/g"},
      {"g":"rate","k":"rate","x":33.7,"y":458,"t":"2 A/g"},
      {"g":"rate","k":"rate","x":42.0,"y":611,"t":"0.1 A/g"},
      {"g":"temp","k":"25","x":51.0,"y":552,"t":"25 °C"},
      {"g":"temp","k":"0","x":51.3,"y":418,"t":"0 °C"},
      {"g":"temp","k":"-20","x":50.6,"y":277,"t":"–20 °C"},
      {"g":"name","k":"name","x":54.3,"y":1325,"t":"MoS₂/rGO_700"}
    ],
    "f": [
      {"s":"700","r":"0.1","x":25,"y":587},{"s":"700","r":"0.1","x":0,"y":379},{"s":"700","r":"0.1","x":-20,"y":286},
      {"s":"700","r":"2","x":25,"y":401},{"s":"700","r":"2","x":0,"y":204},{"s":"700","r":"2","x":-20,"y":69},
      {"s":"600","r":"0.1","x":25,"y":592},{"s":"600","r":"0.1","x":0,"y":438},{"s":"600","r":"0.1","x":-20,"y":291},
      {"s":"600","r":"2","x":25,"y":338},{"s":"600","r":"2","x":0,"y":186},{"s":"600","r":"2","x":-20,"y":52}
    ],
    "fT": [
      {"g":"leg","k":"600","x":-21.5,"y":621,"t":"MoS₂/rGO_600"},
      {"g":"leg","k":"700","x":-21.5,"y":578,"t":"MoS₂/rGO_700"},
      {"g":"pct","k":"600","x":-0.7,"y":470,"t":"75%"},
      {"g":"pct","k":"700","x":0.1,"y":340,"t":"66%"},
      {"g":"pct","k":"600","x":-19.6,"y":326,"t":"48%"},
      {"g":"pct","k":"700","x":-19.3,"y":254,"t":"47%"},
      {"g":"pct","k":"700","x":-0.7,"y":244,"t":"48%"},
      {"g":"pct","k":"600","x":0.3,"y":149,"t":"42%"},
      {"g":"pct","k":"700","x":-19.8,"y":100,"t":"18%"},
      {"g":"pct","k":"600","x":-19.5,"y":26,"t":"16%"},
      {"g":"rate","k":"rate","x":-10.8,"y":443,"t":"0.1 A/g"},
      {"g":"rate","k":"rate","x":-11,"y":190,"t":"2 A/g"}
    ]
  },
  "resolve": {"scale": {"fill": "independent", "stroke": "independent", "color": "independent", "strokeDash": "independent"}},
  "spacing": 13,
  "vconcat": [
    {
      "resolve": {"scale": {"fill": "independent", "stroke": "independent", "color": "independent", "strokeDash": "independent"}},
      "spacing": 211,
      "hconcat": [
        {
          "title": {"text": "(a)", "orient": "bottom", "anchor": "middle", "frame": "bounds", "font": "Liberation Serif", "fontWeight": "normal", "fontSize": 60, "offset": 116},
          "vconcat": [{
            "title": {"text": "LIB", "offset": 8},
            "width": 992, "height": 738,
            "encoding": {
              "x": {"field": "x", "type": "quantitative", "scale": {"domain": [-1.1, 55], "nice": false, "zero": false},
                "axis": {"title": "Cycle number", "values": [0,2.5,5,7.5,10,12.5,15,17.5,20,22.5,25,27.5,30,32.5,35,37.5,40,42.5,45,47.5,50,52.5,55],
                  "labelExpr": "datum.value % 5 === 0 ? '' + datum.value : ''",
                  "tickSize": {"condition": {"test": "datum.value % 5 === 0", "value": 17}, "value": 10}}},
              "y": {"field": "y", "type": "quantitative", "scale": {"domain": [0, 2019], "nice": false},
                "axis": {"title": "Specific capacity (mAh/g)", "values": [0,100,200,300,400,500,600,700,800,900,1000,1100,1200,1300,1400,1500,1600,1700,1800,1900,2000],
                  "labelExpr": "datum.value % 200 === 0 ? '' + datum.value : ''",
                  "tickSize": {"condition": {"test": "datum.value % 200 === 0", "value": 17}, "value": 10}}}
            },
            "layer": [
              {"data": {"name": "a"}, "mark": {"type": "point", "shape": "circle", "filled": true, "size": 300, "strokeWidth": 2.5, "opacity": 1},
                "encoding": {
                  "fill": {"field": "s", "type": "nominal", "scale": {"domain": ["25c","25d","0c","0d","-20c","-20d"], "range": ["#A30D5A","#FFFFFF","#B8560F","#F6C6A0","#9E9C1E","#F1EFA8"]}, "legend": null},
                  "stroke": {"field": "s", "type": "nominal", "scale": {"domain": ["25c","25d","0c","0d","-20c","-20d"], "range": ["#8E0B4E","#B4306F","#9A470C","#C98550","#84831A","#B3B13C"]}, "legend": null}}},
              {"data": {"name": "aT"}, "transform": [{"filter": "datum.g !== 'name'"}], "mark": {"type": "text", "fontSize": 37, "fontWeight": "bold"},
                "encoding": {"text": {"field": "t", "type": "nominal"},
                  "color": {"field": "k", "type": "nominal", "scale": {"domain": ["rate","25","0","-20"], "range": ["#000000","#A3125C","#C0600F","#A6A41E"]}, "legend": null}}},
              {"data": {"name": "aT"}, "transform": [{"filter": "datum.g === 'name'"}], "mark": {"type": "text", "fontSize": 44, "fontWeight": "bold", "align": "right", "color": "#000000"},
                "encoding": {"text": {"field": "t", "type": "nominal"}}}
            ]
          }]
        },
        {
          "resolve": {"scale": {"fill": "independent", "stroke": "independent", "color": "independent", "strokeDash": "independent"}},
          "spacing": 193,
          "hconcat": [
            {
              "title": {"text": "(b)", "orient": "bottom", "anchor": "middle", "frame": "bounds", "font": "Liberation Serif", "fontWeight": "normal", "fontSize": 60, "offset": 116},
              "vconcat": [{
                "title": {"text": "LIB", "offset": 8},
                "width": 1004, "height": 738,
                "encoding": {
                  "x": {"field": "x", "type": "quantitative", "scale": {"domain": [-1.1, 55], "nice": false, "zero": false},
                    "axis": {"title": "Cycle number", "values": [0,2.5,5,7.5,10,12.5,15,17.5,20,22.5,25,27.5,30,32.5,35,37.5,40,42.5,45,47.5,50,52.5,55],
                      "labelExpr": "datum.value % 5 === 0 ? '' + datum.value : ''",
                      "tickSize": {"condition": {"test": "datum.value % 5 === 0", "value": 17}, "value": 10}}},
                  "y": {"field": "y", "type": "quantitative", "scale": {"domain": [0, 2000], "nice": false},
                    "axis": {"title": "Specific capacity (mAh/g)", "values": [0,100,200,300,400,500,600,700,800,900,1000,1100,1200,1300,1400,1500,1600,1700,1800,1900,2000],
                      "labelExpr": "datum.value % 200 === 0 ? '' + datum.value : ''",
                      "tickSize": {"condition": {"test": "datum.value % 200 === 0", "value": 17}, "value": 10}}}
                },
                "layer": [
                  {"data": {"name": "b"}, "mark": {"type": "point", "shape": "circle", "filled": true, "size": 300, "strokeWidth": 2.5, "opacity": 1},
                    "encoding": {
                      "fill": {"field": "s", "type": "nominal", "scale": {"domain": ["25c","25d","0c","0d","-20c","-20d"], "range": ["#1232EA","#B9C0F6","#6B6B6B","#C9C9C9","#0F8880","#25C8C0"]}, "legend": null},
                      "stroke": {"field": "s", "type": "nominal", "scale": {"domain": ["25c","25d","0c","0d","-20c","-20d"], "range": ["#0B22C0","#4B5CD6","#4A4A4A","#5A5A5A","#0B6A64","#12958E"]}, "legend": null}}},
                  {"data": {"name": "bT"}, "transform": [{"filter": "datum.g !== 'name'"}], "mark": {"type": "text", "fontSize": 37, "fontWeight": "bold"},
                    "encoding": {"text": {"field": "t", "type": "nominal"},
                      "color": {"field": "k", "type": "nominal", "scale": {"domain": ["rate","25","0","-20"], "range": ["#000000","#1A30F0","#9A9A9A","#14A39B"]}, "legend": null}}},
                  {"data": {"name": "bT"}, "transform": [{"filter": "datum.g === 'name'"}], "mark": {"type": "text", "fontSize": 44, "fontWeight": "bold", "align": "right", "color": "#000000"},
                    "encoding": {"text": {"field": "t", "type": "nominal"}}}
                ]
              }]
            },
            {
              "title": {"text": "(c)", "orient": "bottom", "anchor": "middle", "frame": "bounds", "font": "Liberation Serif", "fontWeight": "normal", "fontSize": 60, "offset": 107},
              "vconcat": [{
                "title": {"text": "LIB", "offset": 8},
                "width": 1013, "height": 745,
                "encoding": {
                  "x": {"field": "x", "type": "quantitative", "scale": {"domain": [-22, 27], "reverse": true, "nice": false, "zero": false},
                    "axis": {"title": "Temperature (°C)", "values": [25,20,15,10,5,0,-5,-10,-15,-20],
                      "labelExpr": "datum.value % 10 === 0 ? '' + datum.value : ''",
                      "tickSize": {"condition": {"test": "datum.value % 10 === 0", "value": 17}, "value": 10}}},
                  "y": {"field": "y", "type": "quantitative", "scale": {"domain": [0, 1332], "nice": false},
                    "axis": {"title": "Discharge capacity (mAh/g)", "values": [0,100,200,300,400,500,600,700,800,900,1000,1100,1200,1300],
                      "labelExpr": "datum.value % 200 === 0 ? '' + datum.value : ''",
                      "tickSize": {"condition": {"test": "datum.value % 200 === 0", "value": 17}, "value": 10}}}
                },
                "layer": [
                  {"data": {"name": "c"}, "mark": {"type": "line", "strokeWidth": 5},
                    "encoding": {
                      "color": {"field": "s", "type": "nominal", "scale": {"domain": ["600","700"], "range": ["#A3125C","#8A8A8A"]}, "legend": null},
                      "strokeDash": {"field": "r", "type": "nominal", "scale": {"domain": ["0.1","2"], "range": [[1,0],[26,16]]}, "legend": null}}},
                  {"data": {"name": "c"}, "mark": {"type": "point", "shape": "circle", "filled": true, "size": 140, "strokeWidth": 4, "opacity": 1},
                    "encoding": {
                      "fill": {"field": "s", "type": "nominal", "scale": {"domain": ["600","700"], "range": ["#F0D2E0","#E2E2E2"]}, "legend": null},
                      "stroke": {"field": "s", "type": "nominal", "scale": {"domain": ["600","700"], "range": ["#A3125C","#8A8A8A"]}, "legend": null}}},
                  {"data": {"name": "cT"}, "transform": [{"filter": "datum.g === 'pct'"}], "mark": {"type": "text", "fontSize": 37},
                    "encoding": {"text": {"field": "t", "type": "nominal"}, "color": {"field": "k", "type": "nominal", "legend": null}}},
                  {"data": {"name": "cT"}, "transform": [{"filter": "datum.g === 'rate'"}], "mark": {"type": "text", "fontSize": 39, "fontWeight": "bold", "color": "#000000"},
                    "encoding": {"text": {"field": "t", "type": "nominal"}}},
                  {"data": {"name": "cT"}, "transform": [{"filter": "datum.g === 'leg'"}], "mark": {"type": "text", "fontSize": 45, "fontWeight": "bold", "align": "right"},
                    "encoding": {"text": {"field": "t", "type": "nominal"}, "color": {"field": "k", "type": "nominal", "legend": null}}}
                ]
              }]
            }
          ]
        }
      ]
    },
    {
      "resolve": {"scale": {"fill": "independent", "stroke": "independent", "color": "independent", "strokeDash": "independent"}},
      "spacing": 217,
      "hconcat": [
        {
          "title": {"text": "(d)", "orient": "bottom", "anchor": "middle", "frame": "bounds", "font": "Liberation Serif", "fontWeight": "normal", "fontSize": 60, "offset": 68},
          "vconcat": [{
            "title": {"text": "SIB", "offset": 8},
            "width": 996, "height": 743,
            "encoding": {
              "x": {"field": "x", "type": "quantitative", "scale": {"domain": [-1.1, 55], "nice": false, "zero": false},
                "axis": {"title": "Cycle number", "values": [0,2.5,5,7.5,10,12.5,15,17.5,20,22.5,25,27.5,30,32.5,35,37.5,40,42.5,45,47.5,50,52.5,55],
                  "labelExpr": "datum.value % 5 === 0 ? '' + datum.value : ''",
                  "tickSize": {"condition": {"test": "datum.value % 5 === 0", "value": 17}, "value": 10}}},
              "y": {"field": "y", "type": "quantitative", "scale": {"domain": [0, 800, 978, 1173], "range": [743, 131, 131, 0], "nice": false},
                "axis": {"title": "Specific capacity (mAh/g)", "values": [0,50,100,150,200,250,300,350,400,450,500,550,600,650,700,750,1000,1050,1100,1150],
                  "labelExpr": "datum.value % 100 === 0 ? '' + datum.value : ''",
                  "tickSize": {"condition": {"test": "datum.value % 100 === 0", "value": 17}, "value": 10}}}
            },
            "layer": [
              {"data": {"name": "d"}, "mark": {"type": "point", "shape": "circle", "filled": true, "size": 300, "strokeWidth": 2.5, "opacity": 1},
                "encoding": {
                  "fill": {"field": "s", "type": "nominal", "scale": {"domain": ["25c","25d","0c","0d","-20c","-20d"], "range": ["#A30D5A","#FFFFFF","#B8560F","#F6C6A0","#9E9C1E","#F1EFA8"]}, "legend": null},
                  "stroke": {"field": "s", "type": "nominal", "scale": {"domain": ["25c","25d","0c","0d","-20c","-20d"], "range": ["#8E0B4E","#B4306F","#9A470C","#C98550","#84831A","#B3B13C"]}, "legend": null}}},
              {"data": {"name": "dT"}, "transform": [{"filter": "datum.g !== 'name'"}], "mark": {"type": "text", "fontSize": 37, "fontWeight": "bold"},
                "encoding": {"text": {"field": "t", "type": "nominal"},
                  "color": {"field": "k", "type": "nominal", "scale": {"domain": ["rate","25","0","-20"], "range": ["#000000","#A3125C","#C0600F","#A6A41E"]}, "legend": null}}},
              {"data": {"name": "dT"}, "transform": [{"filter": "datum.g === 'name'"}], "mark": {"type": "text", "fontSize": 44, "fontWeight": "bold", "align": "right", "color": "#000000"},
                "encoding": {"text": {"field": "t", "type": "nominal"}}},
              {"data": {"values": [{"x": -1.1, "y": 890}, {"x": 55, "y": 890}]}, "mark": {"type": "text", "text": "=", "fontSize": 52, "fontWeight": "bold", "angle": 340, "color": "#000000"}}
            ]
          }]
        },
        {
          "resolve": {"scale": {"fill": "independent", "stroke": "independent", "color": "independent", "strokeDash": "independent"}},
          "spacing": 181,
          "hconcat": [
            {
              "title": {"text": "(e)", "orient": "bottom", "anchor": "middle", "frame": "bounds", "font": "Liberation Serif", "fontWeight": "normal", "fontSize": 60, "offset": 68},
              "vconcat": [{
                "title": {"text": "SIB", "offset": 8},
                "width": 1004, "height": 749,
                "encoding": {
                  "x": {"field": "x", "type": "quantitative", "scale": {"domain": [-1.1, 55], "nice": false, "zero": false},
                    "axis": {"title": "Cycle number", "values": [0,2.5,5,7.5,10,12.5,15,17.5,20,22.5,25,27.5,30,32.5,35,37.5,40,42.5,45,47.5,50,52.5,55],
                      "labelExpr": "datum.value % 5 === 0 ? '' + datum.value : ''",
                      "tickSize": {"condition": {"test": "datum.value % 5 === 0", "value": 17}, "value": 10}}},
                  "y": {"field": "y", "type": "quantitative", "scale": {"domain": [0, 796, 1267, 1358], "range": [749, 131, 131, 0], "nice": false},
                    "axis": {"title": "Specific capacity (mAh/g)", "values": [0,50,100,150,200,250,300,350,400,450,500,550,600,650,700,750,1300,1325,1350],
                      "labelExpr": "(datum.value % 100 === 0 || datum.value === 1350) ? '' + datum.value : ''",
                      "tickSize": {"condition": {"test": "datum.value % 100 === 0 || datum.value === 1350", "value": 17}, "value": 10}}}
                },
                "layer": [
                  {"data": {"name": "e"}, "mark": {"type": "point", "shape": "circle", "filled": true, "size": 300, "strokeWidth": 2.5, "opacity": 1},
                    "encoding": {
                      "fill": {"field": "s", "type": "nominal", "scale": {"domain": ["25c","25d","0c","0d","-20c","-20d"], "range": ["#1232EA","#B9C0F6","#6B6B6B","#C9C9C9","#0F8880","#25C8C0"]}, "legend": null},
                      "stroke": {"field": "s", "type": "nominal", "scale": {"domain": ["25c","25d","0c","0d","-20c","-20d"], "range": ["#0B22C0","#4B5CD6","#4A4A4A","#5A5A5A","#0B6A64","#12958E"]}, "legend": null}}},
                  {"data": {"name": "eT"}, "transform": [{"filter": "datum.g !== 'name'"}], "mark": {"type": "text", "fontSize": 37, "fontWeight": "bold"},
                    "encoding": {"text": {"field": "t", "type": "nominal"},
                      "color": {"field": "k", "type": "nominal", "scale": {"domain": ["rate","25","0","-20"], "range": ["#000000","#1A30F0","#9A9A9A","#14A39B"]}, "legend": null}}},
                  {"data": {"name": "eT"}, "transform": [{"filter": "datum.g === 'name'"}], "mark": {"type": "text", "fontSize": 44, "fontWeight": "bold", "align": "right", "color": "#000000"},
                    "encoding": {"text": {"field": "t", "type": "nominal"}}},
                  {"data": {"values": [{"x": -1.1, "y": 1000}, {"x": 55, "y": 1000}]}, "mark": {"type": "text", "text": "=", "fontSize": 52, "fontWeight": "bold", "angle": 340, "color": "#000000"}}
                ]
              }]
            },
            {
              "title": {"text": "(f)", "orient": "bottom", "anchor": "middle", "frame": "bounds", "font": "Liberation Serif", "fontWeight": "normal", "fontSize": 60, "offset": 59},
              "vconcat": [{
                "title": {"text": "SIB", "offset": 8},
                "width": 1032, "height": 752,
                "encoding": {
                  "x": {"field": "x", "type": "quantitative", "scale": {"domain": [-22, 27], "reverse": true, "nice": false, "zero": false},
                    "axis": {"title": "Temperature (°C)", "values": [25,20,15,10,5,0,-5,-10,-15,-20],
                      "labelExpr": "datum.value % 10 === 0 ? '' + datum.value : ''",
                      "tickSize": {"condition": {"test": "datum.value % 10 === 0", "value": 17}, "value": 10}}},
                  "y": {"field": "y", "type": "quantitative", "scale": {"domain": [0, 637], "nice": false},
                    "axis": {"title": "Discharge capacity (mAh/g)", "values": [0,50,100,150,200,250,300,350,400,450,500,550,600],
                      "labelExpr": "datum.value % 100 === 0 ? '' + datum.value : ''",
                      "tickSize": {"condition": {"test": "datum.value % 100 === 0", "value": 17}, "value": 10}}}
                },
                "layer": [
                  {"data": {"name": "f"}, "mark": {"type": "line", "strokeWidth": 5},
                    "encoding": {
                      "color": {"field": "s", "type": "nominal", "scale": {"domain": ["600","700"], "range": ["#A3125C","#8A8A8A"]}, "legend": null},
                      "strokeDash": {"field": "r", "type": "nominal", "scale": {"domain": ["0.1","2"], "range": [[1,0],[26,16]]}, "legend": null}}},
                  {"data": {"name": "f"}, "mark": {"type": "point", "shape": "circle", "filled": true, "size": 140, "strokeWidth": 4, "opacity": 1},
                    "encoding": {
                      "fill": {"field": "s", "type": "nominal", "scale": {"domain": ["600","700"], "range": ["#F0D2E0","#E2E2E2"]}, "legend": null},
                      "stroke": {"field": "s", "type": "nominal", "scale": {"domain": ["600","700"], "range": ["#A3125C","#8A8A8A"]}, "legend": null}}},
                  {"data": {"name": "fT"}, "transform": [{"filter": "datum.g === 'pct'"}], "mark": {"type": "text", "fontSize": 37},
                    "encoding": {"text": {"field": "t", "type": "nominal"}, "color": {"field": "k", "type": "nominal", "legend": null}}},
                  {"data": {"name": "fT"}, "transform": [{"filter": "datum.g === 'rate'"}], "mark": {"type": "text", "fontSize": 39, "fontWeight": "bold", "color": "#000000"},
                    "encoding": {"text": {"field": "t", "type": "nominal"}}},
                  {"data": {"name": "fT"}, "transform": [{"filter": "datum.g === 'leg'"}], "mark": {"type": "text", "fontSize": 45, "fontWeight": "bold", "align": "right"},
                    "encoding": {"text": {"field": "t", "type": "nominal"}, "color": {"field": "k", "type": "nominal", "legend": null}}}
                ]
              }]
            }
          ]
        }
      ]
    }
  ]
}
